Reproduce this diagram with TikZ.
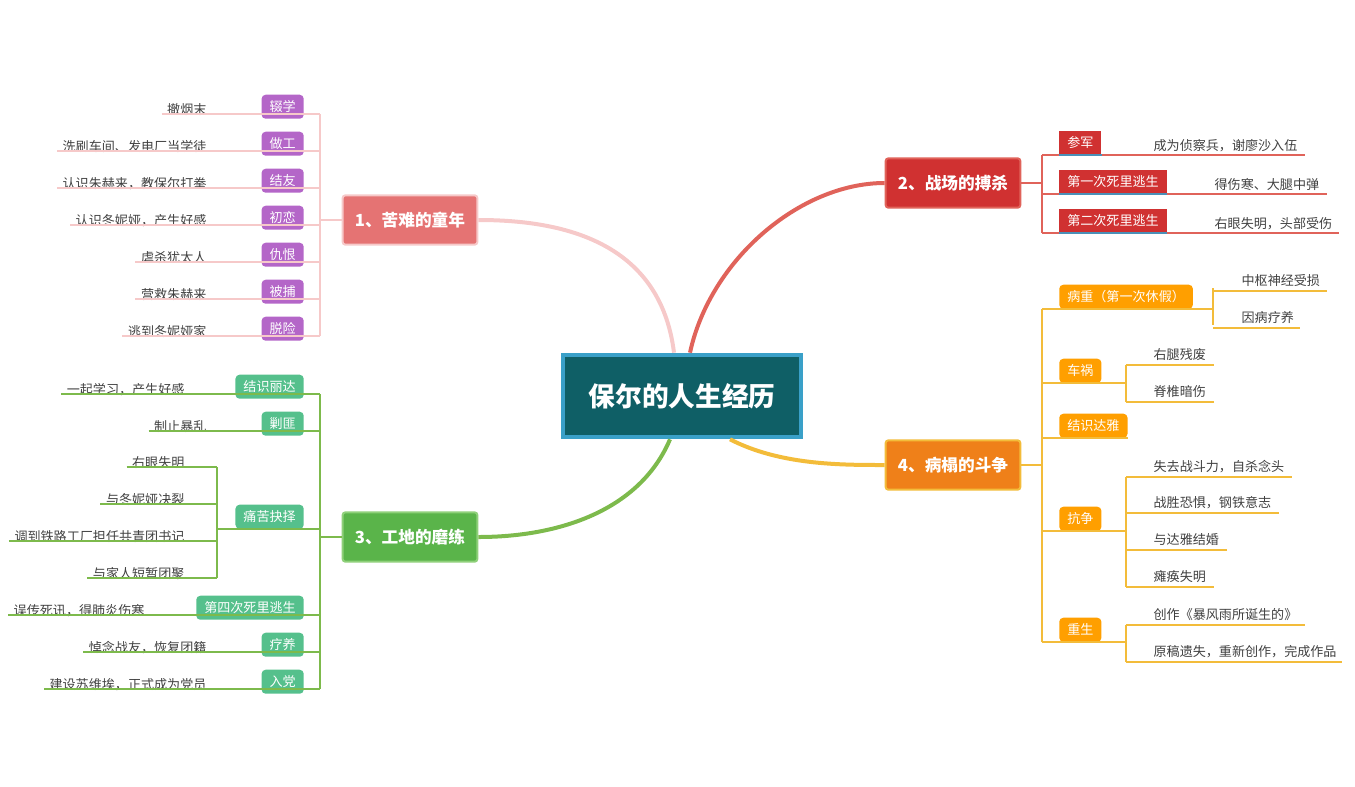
\documentclass[tikz,border=0pt]{standalone}
\usepackage{fontspec}
\setmainfont{Noto Sans CJK SC}
\definecolor{pk}{HTML}{F6C9C9}\definecolor{pu}{HTML}{B466C8}
\definecolor{gl}{HTML}{7DBA4C}\definecolor{gb}{HTML}{55C08C}
\definecolor{rl}{HTML}{E0635A}\definecolor{rb}{HTML}{D03131}
\definecolor{ol}{HTML}{F3BC3A}\definecolor{ob}{HTML}{FF9F00}
\definecolor{cb}{HTML}{3AA0C8}\definecolor{cf}{HTML}{0F5F66}
\definecolor{b1f}{HTML}{E57373}\definecolor{b3f}{HTML}{5AB44A}
\definecolor{b3d}{HTML}{8FD07A}\definecolor{b4f}{HTML}{EF8019}
\definecolor{ul}{HTML}{4A90B8}
\begin{document}
\begin{tikzpicture}[x=0.75pt,y=-0.75pt,
  leaf/.style={font=\fontsize{9.8}{11}\selectfont,text=black!75,inner sep=1pt,inner xsep=4pt},
  sub/.style={font=\fontsize{9.8}{11}\selectfont,text=white,inner sep=2pt,inner xsep=6pt,minimum height=18pt,rounded corners=3pt},
  br/.style={font=\fontsize{12.5}{14}\selectfont\bfseries,text=white,minimum width=101pt,minimum height=37pt,rounded corners=2pt,line width=1.5pt},
  ln/.style={line width=1.3pt,rounded corners=4pt}]
\useasboundingbox (0,0) rectangle (1355,786);

% center
\node[draw=cb,fill=cf,line width=3pt,minimum width=178pt,minimum height=62pt,text=white,font=\fontsize{20}{22}\selectfont\bfseries] (c) at (682,396) {保尔的人生经历};

% branches
\node[br,fill=b1f,draw=pk] (b1) at (410,220) {1、苦难的童年};
\node[br,fill=rb,draw=rl] (b2) at (953,183) {2、战场的搏杀};
\node[br,fill=b3f,draw=b3d] (b3) at (410,537) {3、工地的磨练};
\node[br,fill=b4f,draw=ol] (b4) at (953,465) {4、病榻的斗争};

\draw[pk,line width=3pt] ([xshift=-6pt]c.north) .. controls (660,240) and (560,220) .. (b1.east);
\draw[rl,line width=3pt] ([xshift=6pt]c.north) .. controls (710,260) and (800,183) .. (b2.west);
\draw[gl,line width=3pt] ([xshift=-9pt]c.south) .. controls (640,510) and (560,537) .. (b3.east);
\draw[ol,line width=3pt] ([xshift=36pt]c.south) .. controls (780,465) and (840,465) .. (b4.west);

% branch 1
\coordinate (s1) at (320,0);
\foreach \i/\y/\b/\t in {1/120/辍学/撤烟末,2/157/做工/洗刷车间、发电厂当学徒,3/194/结友/认识朱赫来，教保尔打拳,4/231/初恋/认识冬妮娅，产生好感,5/268/仇恨/虐杀犹太人,6/305/被捕/营救朱赫来,7/342/脱险/逃到冬妮娅家}{
  \node[sub,fill=pu,anchor=south east] (p\i) at (304,\y-1) {\b};
  \node[leaf,anchor=south east] (q\i) at (212,\y-3) {\t};
  \draw[pk,line width=1.3pt] ([yshift=2pt]q\i.south west) -- ([yshift=2pt]q\i.south west -| s1);
}
\draw[pk,ln] ([yshift=2pt]q1.south west -| s1) -- ([yshift=2pt]q7.south west -| s1);
\draw[pk,line width=1.3pt] (b1.west) -- (b1.west -| s1);

% branch 3
\foreach \i/\y/\b/\t/\lx in {1/400/结识丽达/一起学习，产生好感/190,2/437/剿匪/制止暴乱/212,5/621/第四次死里逃生/误传死讯，得肺炎伤寒/150,6/658/疗养/悼念战友，恢复团籍/212,7/695/入党/建设苏维埃，正式成为党员/212}{
  \node[sub,fill=gb,anchor=south east] (g\i) at (304,\y-1) {\b};
  \node[leaf,anchor=south east] (h\i) at (\lx,\y-3) {\t};
  \draw[gl,line width=1.3pt] ([yshift=2pt]h\i.south west) -- ([yshift=2pt]h\i.south west -| s1);
}
\node[sub,fill=gb,anchor=south east] (g3) at (304,529) {痛苦抉择};
\coordinate (s3) at (217,0);
\foreach \i/\y/\t in {1/473/右眼失明,2/510/与冬妮娅决裂,3/547/调到铁路工厂担任共青团书记,4/584/与家人短暂团聚}{
  \node[leaf,anchor=south east] (k\i) at (190,\y-3) {\t};
  \draw[gl,line width=1.3pt] ([yshift=2pt]k\i.south west) -- ([yshift=2pt]k\i.south west -| s3);
}
\draw[gl,ln] ([yshift=2pt]k1.south west -| s3) -- ([yshift=2pt]k4.south west -| s3);
\draw[gl,line width=1.3pt] (s3 |- g3.south) -- (g3.south -| s1);
\draw[gl,ln] ([yshift=2pt]h1.south west -| s1) -- ([yshift=2pt]h7.south west -| s1);
\draw[gl,line width=1.3pt] (b3.west) -- (b3.west -| s1);

% branch 2
\coordinate (s2) at (1042,0);
\foreach \i/\y/\b/\t/\rx/\lx in {1/156/参军/成为侦察兵，谢廖沙入伍/1305/1148,2/195/第一次死里逃生/得伤寒、大腿中弹/1327/1209,3/234/第二次死里逃生/右眼失明，头部受伤/1339/1209}{
  \node[sub,fill=rb,rounded corners=0pt,anchor=south west] (r\i) at (1059,\y-1) {\b};
  \node[leaf,anchor=south west] (t\i) at (\lx,\y-3) {\t};
  \draw[rl,line width=1.3pt] (s2 |- r\i.south) -- (\rx,\y-1);
  \draw[ul,line width=1.3pt] (r\i.south west) -- (r\i.south east);
}
\draw[rl,ln] (s2 |- r1.south) -- (s2 |- r3.south);
\draw[rl,line width=1.3pt] (b2.east) -- (b2.east -| s2);

% branch 4
\foreach \i/\y/\b in {1/310/病重（第一次休假）,2/384/车祸,3/439/结识达雅,4/532/抗争,5/643/重生}{
  \node[sub,fill=ob,anchor=south west] (o\i) at (1059,\y-1) {\b};
}
\draw[ol,ln] (s2 |- o1.south) -- (s2 |- o5.south);
\foreach \i in {1,...,5}{\draw[ol,line width=1.3pt] (s2 |- o\i.south) -- (o\i.south east);}
\draw[ol,line width=1.3pt] (b4.east) -- (b4.east -| s2);
\coordinate (s4a) at (1213,0);
\coordinate (s4b) at (1126,0);
\foreach \i/\y/\t/\rx in {1/291/中枢神经受损/1327,2/328/因病疗养/1300}{
  \node[leaf,anchor=south west] (u\i) at (1236,\y-3) {\t};
  \draw[ol,line width=1.3pt] (1213,\y) -- (\rx,\y);
}
\draw[ol,ln] (s4a |- u1.south) -- (s4a |- u2.south);
\draw[ol,line width=1.3pt] (o1.south east) -- (s4a |- o1.south);
\foreach \i/\y/\t/\rx in {1/365/右腿残废/1214,2/402/脊椎暗伤/1214,3/477/失去战斗力，自杀念头/1292,4/513/战胜恐惧，钢铁意志/1279,5/550/与达雅结婚/1227,6/587/瘫痪失明/1214,7/625/创作《暴风雨所诞生的》/1305,8/662/原稿遗失，重新创作，完成作品/1342}{
  \node[leaf,anchor=south west] (v\i) at (1148,\y-3) {\t};
  \draw[ol,line width=1.3pt] (1126,\y) -- (\rx,\y);
}
\draw[ol,ln] (1126,365) -- (1126,402);
\draw[ol,ln] (1126,477) -- (1126,587);
\draw[ol,ln] (1126,625) -- (1126,662);
\draw[ol,line width=1.3pt] (o2.south east) -- (s4b |- o2.south);
\draw[ol,line width=1.3pt] (o4.south east) -- (s4b |- o4.south);
\draw[ol,line width=1.3pt] (o5.south east) -- (s4b |- o5.south);
\end{tikzpicture}
\end{document}
